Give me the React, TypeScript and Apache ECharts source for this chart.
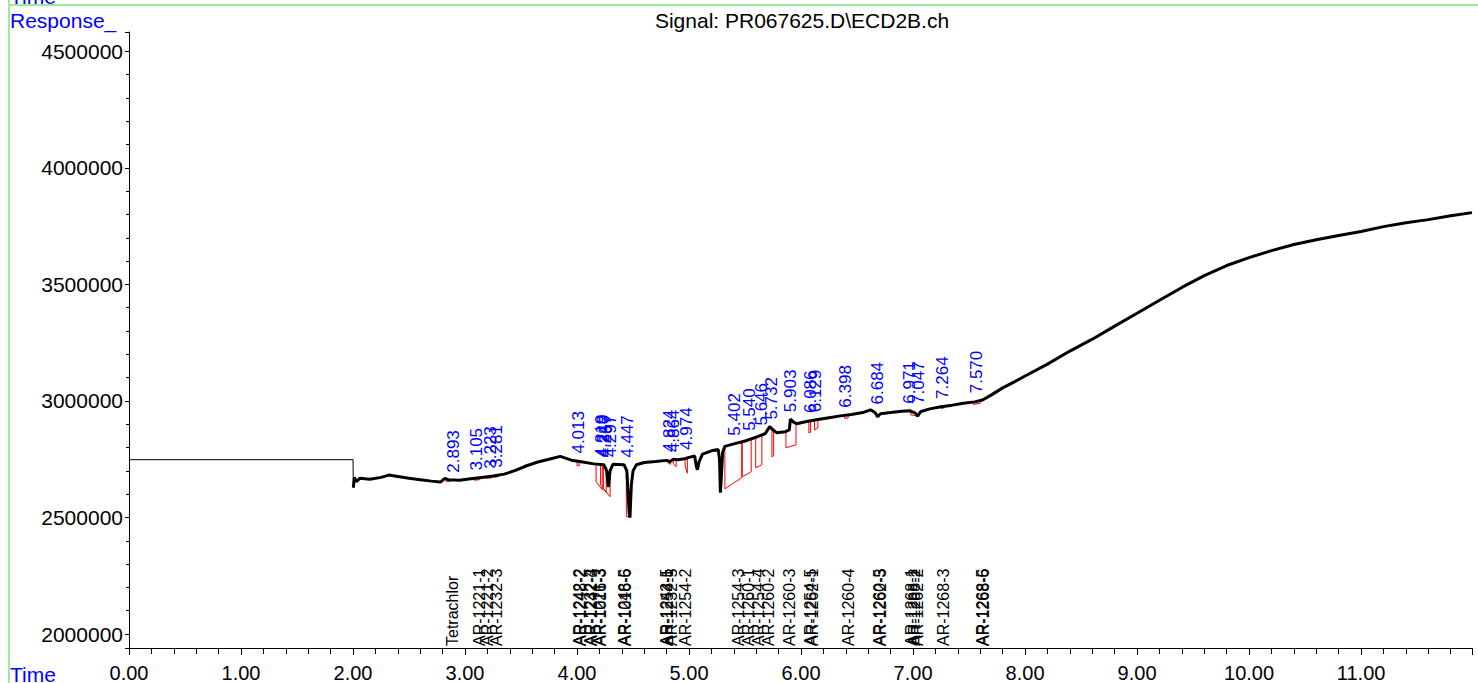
import React, { useEffect, useRef } from "react";
import * as echarts from "echarts";

const FONT = "Liberation Sans, Arial, sans-serif";

// flat pre-run segment (0 - 2 min)
const flatTimes = [0, 2.0, 2.003];
const flatValues = [2748000, 2748000, 2628000];

// detector trace (min, response)
const traceTimes = [
  2.003, 2.012, 2.03, 2.06, 2.15, 2.25, 2.32, 2.4, 2.5, 2.6, 2.7, 2.78, 2.82, 2.85, 2.95,
  3.05, 3.15, 3.25, 3.35, 3.45, 3.55, 3.65, 3.75, 3.85, 3.95, 4.05, 4.15, 4.24, 4.265, 4.28,
  4.295, 4.32, 4.42, 4.445, 4.465, 4.472, 4.485, 4.5, 4.53, 4.6, 4.7, 4.8, 4.83, 4.86, 4.9,
  4.96, 5.0, 5.05, 5.065, 5.075, 5.09, 5.12, 5.2, 5.26, 5.272, 5.28, 5.29, 5.3, 5.32, 5.4,
  5.5, 5.6, 5.68, 5.72, 5.74, 5.78, 5.86, 5.895, 5.905, 5.93, 5.96, 6.05, 6.15, 6.25, 6.35,
  6.45, 6.55, 6.62, 6.66, 6.685, 6.71, 6.8, 6.9, 6.97, 7.02, 7.04, 7.07, 7.15, 7.25, 7.35,
  7.45, 7.55, 7.62, 7.7, 7.8, 7.9, 8.0, 8.2, 8.4, 8.6, 8.8, 9.0, 9.2, 9.4, 9.6,
  9.8, 10.0, 10.2, 10.4, 10.6, 10.8, 11.0, 11.2, 11.4, 11.6, 11.8, 11.99,
];
const traceValues = [
  2628000, 2672000, 2654000, 2668000, 2664000, 2672000, 2682000, 2676000, 2668000, 2662000, 2656000, 2652000, 2668000, 2662000, 2660000,
  2666000, 2672000, 2678000, 2686000, 2702000, 2722000, 2738000, 2750000, 2762000, 2746000, 2738000, 2730000, 2726000, 2700000, 2630000,
  2700000, 2728000, 2726000, 2700000, 2520000, 2500000, 2640000, 2700000, 2726000, 2736000, 2740000, 2745000, 2740000, 2750000, 2748000,
  2752000, 2758000, 2764000, 2720000, 2705000, 2740000, 2772000, 2786000, 2792000, 2750000, 2606000, 2690000, 2780000, 2805000, 2816000,
  2828000, 2845000, 2860000, 2890000, 2880000, 2864000, 2868000, 2876000, 2922000, 2910000, 2902000, 2912000, 2920000, 2928000, 2936000,
  2942000, 2950000, 2962000, 2950000, 2934000, 2945000, 2950000, 2956000, 2958000, 2948000, 2935000, 2955000, 2966000, 2975000, 2982000,
  2990000, 2996000, 3004000, 3026000, 3056000, 3081000, 3107000, 3158000, 3214000, 3265000, 3321000, 3376000, 3432000, 3487000, 3538000,
  3581000, 3615000, 3645000, 3671000, 3692000, 3710000, 3727000, 3748000, 3765000, 3778000, 3795000, 3808000,
];

// integrated peaks (blue retention-time labels)
const peakTimes = [
  2.893, 3.105, 3.223, 3.281, 4.013, 4.219, 4.24, 4.257, 4.297, 4.447, 4.824, 4.864, 4.974,
  5.402, 5.54, 5.646, 5.732, 5.903, 6.086, 6.129, 6.398, 6.684, 6.971, 7.047, 7.264, 7.57,
];
const peakLabels = [
  "2.893", "3.105", "3.223", "3.281", "4.013", "4.219", "4.240", "4.257", "4.297", "4.447", "4.824", "4.864", "4.974",
  "5.402", "5.540", "5.646", "5.732", "5.903", "6.086", "6.129", "6.398", "6.684", "6.971", "7.047", "7.264", "7.570",
];

// red baselines of integrated peaks
const redStart = [2.83, 3.08, 3.19, 3.26, 4.0, 4.17, 4.21, 4.235, 4.44, 4.81, 4.86, 4.965, 5.32, 5.475, 5.595, 5.74, 5.865, 6.07, 6.12, 6.39, 6.67, 6.98, 7.25, 7.54];
const redEnd = [2.87, 3.13, 3.24, 3.3, 4.02, 4.225, 4.26, 4.295, 4.48, 4.835, 4.885, 4.985, 5.47, 5.555, 5.65, 5.755, 5.955, 6.085, 6.15, 6.42, 6.7, 7.05, 7.28, 7.6];
const redBottomStart = [2655000, 2660000, 2668000, 2672000, 2722000, 2653000, 2640000, 2625000, 2505000, 2735000, 2730000, 2720000, 2623000, 2675000, 2713000, 2760000, 2799000, 2863000, 2876000, 2925000, 2930000, 2940000, 2968000, 2985000];
const redBottomEnd = [2655000, 2662000, 2670000, 2676000, 2722000, 2619000, 2608000, 2589000, 2500000, 2728000, 2718000, 2690000, 2671000, 2696000, 2726000, 2765000, 2812000, 2866000, 2884000, 2927000, 2932000, 2935000, 2970000, 2990000];

// compound names (black, bottom)
const compoundNames = [
  "Tetrachlor", "AR-1221-1", "AR-1221-2", "AR-1232-3", "AR-1242-2", "AR-1248-2", "AR-1232-4", "AR-1242-3",
  "AR-1221-3", "AR-1016-3", "AR-1248-5", "AR-1016-6", "AR-1242-5", "AR-1254-1", "AR-1232-5", "AR-1254-2",
  "AR-1254-3", "AR-1260-1", "AR-1254-4", "AR-1260-2", "AR-1260-3", "AR-1254-5", "AR-1262-1", "AR-1260-4",
  "AR-1260-5", "AR-1262-3", "AR-1268-1", "AR-1268-2", "AR-1262-2", "AR-1268-3", "AR-1268-5", "AR-1268-6",
];
const compoundTimes = [
  2.89, 3.13, 3.2, 3.28, 4.02, 4.03, 4.12, 4.13, 4.2, 4.21, 4.42, 4.43, 4.8, 4.81, 4.84, 4.97,
  5.44, 5.53, 5.62, 5.71, 5.9, 6.08, 6.1, 6.42, 6.7, 6.71, 6.99, 7.01, 7.04, 7.27, 7.62, 7.63,
];

const Y_MIN = 1940000;
const Y_MAX = 4583000;
const X_MIN = 0;
const X_MAX = 11.99;

function traceAt(t: number): number {
  if (t <= traceTimes[0]) return traceValues[0];
  for (let i = 1; i < traceTimes.length; i++) {
    if (t <= traceTimes[i]) {
      const f = (t - traceTimes[i - 1]) / (traceTimes[i] - traceTimes[i - 1]);
      return traceValues[i - 1] + f * (traceValues[i] - traceValues[i - 1]);
    }
  }
  return traceValues[traceValues.length - 1];
}

function labelBase(t: number): number {
  let m = Math.max(traceAt(t - 0.04), traceAt(t), traceAt(t + 0.04));
  for (let i = 0; i < traceTimes.length; i++) {
    if (Math.abs(traceTimes[i] - t) <= 0.04) m = Math.max(m, traceValues[i]);
  }
  return m;
}

export default function App() {
  const ref = useRef<HTMLDivElement>(null);
  useEffect(() => {
    document.body.style.margin = "0";
    document.body.style.overflow = "hidden";
    const chart = echarts.init(ref.current as HTMLDivElement, null, { renderer: "svg" });
    const option: any = {
      animation: false,
      backgroundColor: "#ffffff",
      grid: { left: 129, right: 1478 - 129 - 1343, top: 32, bottom: 34, containLabel: false },
      xAxis: {
        type: "value",
        min: X_MIN,
        max: X_MAX,
        interval: 1,
        axisLine: { show: true, onZero: false, lineStyle: { color: "#000", width: 1 } },
        axisTick: { show: true, length: 7, lineStyle: { color: "#000" } },
        minorTick: { show: true, splitNumber: 5, length: 6, lineStyle: { color: "#000" } },
        splitLine: { show: false },
        axisLabel: {
          color: "#000",
          fontSize: 20,
          fontFamily: FONT,
          margin: 15,
          showMaxLabel: false,
          formatter: (v: number) => v.toFixed(2),
        },
      },
      yAxis: {
        type: "value",
        min: Y_MIN,
        max: Y_MAX,
        splitNumber: 5,
        axisLine: { show: true, lineStyle: { color: "#000", width: 1 } },
        axisTick: { show: true, length: 4, lineStyle: { color: "#000" } },
        minorTick: { show: true, splitNumber: 5, length: 3, lineStyle: { color: "#000" } },
        splitLine: { show: false },
        axisLabel: {
          color: "#000",
          fontSize: 21,
          fontFamily: FONT,
          margin: 6,
          showMinLabel: false,
          showMaxLabel: false,
          formatter: (v: number) => String(Math.round(v)),
        },
      },
      series: [
        {
          type: "line",
          data: flatTimes.map((t, i) => [t, flatValues[i]]),
          showSymbol: false,
          symbol: "none",
          lineStyle: { color: "#000", width: 1 },
          z: 3,
          silent: true,
        },
        {
          type: "line",
          data: traceTimes.map((t, i) => [t, traceValues[i]]),
          showSymbol: false,
          symbol: "none",
          lineStyle: { color: "#000", width: 3 },
          z: 3,
          silent: true,
        },
        {
          type: "custom",
          coordinateSystem: "cartesian2d",
          silent: true,
          z: 2,
          encode: { x: [0, 1], y: [2, 3] },
          data: redStart.map((t, i) => [t, redEnd[i], redBottomStart[i], redBottomEnd[i]]),
          renderItem: (params: any, api: any) => {
            const t1 = api.value(0);
            const t2 = api.value(1);
            const b1 = api.value(2);
            const b2 = api.value(3);
            const pts = [
              api.coord([t1, traceAt(t1)]),
              api.coord([t1, b1]),
              api.coord([t2, b2]),
              api.coord([t2, traceAt(t2)]),
            ];
            return {
              type: "polyline",
              shape: { points: pts },
              style: { stroke: "#ff0000", lineWidth: 1, fill: "none" },
            };
          },
        },
        {
          type: "custom",
          coordinateSystem: "cartesian2d",
          silent: true,
          z: 5,
          encode: { x: 0, y: 1 },
          data: peakTimes.map((t) => [t, labelBase(t)]),
          renderItem: (params: any, api: any) => {
            const p = api.coord([api.value(0), api.value(1)]);
            return {
              type: "text",
              x: p[0],
              y: p[1] - 7,
              rotation: Math.PI / 2,
              style: {
                text: peakLabels[params.dataIndex],
                fill: "#0000ff",
                fontSize: 17,
                fontFamily: FONT,
                align: "left",
                verticalAlign: "middle",
              },
            };
          },
        },
        {
          type: "custom",
          coordinateSystem: "cartesian2d",
          silent: true,
          z: 5,
          encode: { x: 0, y: 1 },
          data: compoundTimes.map((t) => [t, Y_MIN]),
          renderItem: (params: any, api: any) => {
            const p = api.coord([api.value(0), api.value(1)]);
            return {
              type: "text",
              x: p[0],
              y: p[1] - 2,
              rotation: Math.PI / 2,
              style: {
                text: compoundNames[params.dataIndex],
                fill: "#000000",
                fontSize: 16,
                fontFamily: FONT,
                align: "left",
                verticalAlign: "middle",
              },
            };
          },
        },
      ],
      graphic: [
        { type: "line", shape: { x1: 9, y1: 5, x2: 1478, y2: 5 }, style: { stroke: "#9ceb9c", lineWidth: 2 }, z: 10 },
        { type: "line", shape: { x1: 9, y1: 0, x2: 9, y2: 683 }, style: { stroke: "#9ceb9c", lineWidth: 2 }, z: 10 },
        {
          type: "text",
          x: 10,
          y: 7,
          style: { text: "Time", fill: "#0000ff", fontSize: 21, fontFamily: FONT, align: "left", verticalAlign: "bottom" },
          z: 9,
        },
        {
          type: "text",
          x: 10,
          y: 20,
          style: { text: "Response_", fill: "#0000ff", fontSize: 21, fontFamily: FONT, align: "left", verticalAlign: "middle" },
        },
        {
          type: "text",
          x: 10,
          y: 674,
          style: { text: "Time", fill: "#0000ff", fontSize: 21, fontFamily: FONT, align: "left", verticalAlign: "middle" },
        },
        {
          type: "text",
          x: 802,
          y: 20,
          style: {
            text: "Signal: PR067625.D\\ECD2B.ch",
            fill: "#000000",
            fontSize: 21,
            fontFamily: FONT,
            align: "center",
            verticalAlign: "middle",
          },
        },
      ],
    };
    chart.setOption(option);
    return () => chart.dispose();
  }, []);
  return <div ref={ref} style={{ position: "fixed", left: 0, top: 0, width: 1478, height: 683 }} />;
}
